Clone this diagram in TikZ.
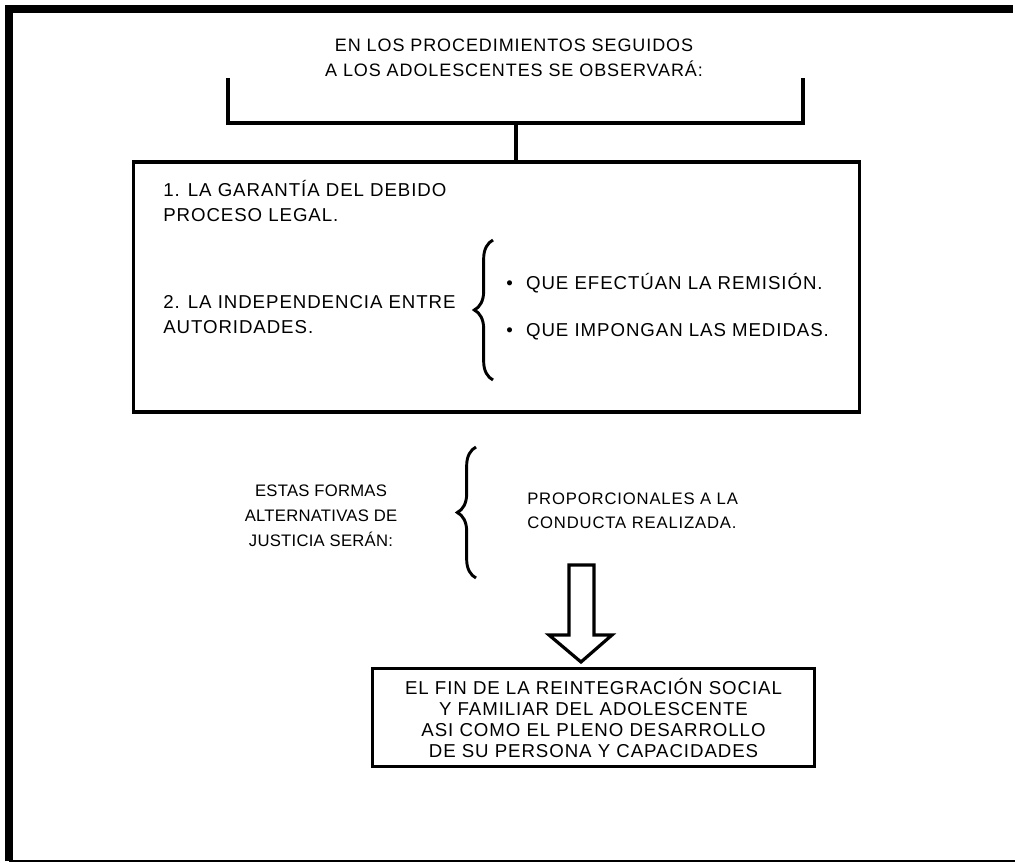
\documentclass[tikz,border=0pt]{standalone}
\usepackage{fontspec}
\setmainfont[LetterSpace=5]{Liberation Sans}
\usetikzlibrary{decorations.pathreplacing,shadows}
\begin{document}
\begin{tikzpicture}[x=0.75pt,y=-0.75pt]
\tikzstyle{marco} = [line width=6pt]
\tikzstyle{caja} = [rectangle, draw=black, fill=white, line width=2.4pt, inner sep=0pt, drop shadow={shadow xshift=1.2pt, shadow yshift=-1.2pt, fill=black!60, opacity=1}]
\tikzstyle{texto} = [font=\fontsize{14}{18.75}\selectfont, inner sep=0pt]
\tikzstyle{angosto} = [font=\fontsize{12.5}{18.75}\selectfont\addfontfeature{LetterSpace=1.5}]
\tikzstyle{trazo} = [line width=2.4pt]
\tikzstyle{llave} = [decorate, decoration={brace, amplitude=14pt}, line width=2.2pt]
\useasboundingbox (0,0) rectangle (1015,863);
% marco exterior
\draw[marco] (9,861) -- (9,9) -- (1013,9);
\draw[line width=1.2pt] (9,861) -- (1015,861);
\node (titulo)[texto, font=\fontsize{13.5}{18.75}\selectfont, align=center] at (514,58) {EN LOS PROCEDIMIENTOS SEGUIDOS\\A LOS ADOLESCENTES SE OBSERVAR\'A:};
\node (garantias)[caja, minimum width=545pt, minimum height=187.5pt] at (496.5,287) {};
\coordinate (izq) at (228,78);
\coordinate (der) at (803,78);
\coordinate (union) at (516,123);
\draw[trazo] (izq) -- (izq |- union) -| (der);
\draw[trazo] (union) -- (union |- garantias.north);
\node (debido)[texto, align=left, anchor=base west] at (163,221.5) {1. LA GARANT\'IA DEL DEBIDO\\PROCESO LEGAL.};
\node (independencia)[texto, align=left, anchor=base west] at (163,333.5) {2. LA INDEPENDENCIA ENTRE\\AUTORIDADES.};
\coordinate (llave1a) at (493,380);
\coordinate (llave1b) at (493,240);
\draw[llave] (llave1a) -- (llave1b);
\node (remision)[texto, anchor=base west] at (506,290) {•\hspace{10pt}QUE EFECT\'UAN LA REMISI\'ON.};
\node (medidas)[texto, anchor=base west] at (506,337) {•\hspace{10pt}QUE IMPONGAN LAS MEDIDAS.};
% formas alternativas
\node (formas)[texto, angosto, align=center, anchor=base] at (321,546) {ESTAS FORMAS\\ALTERNATIVAS DE\\JUSTICIA SER\'AN:};
\coordinate (llave2a) at (476,578);
\coordinate (llave2b) at (476,447);
\draw[llave] (llave2a) -- (llave2b);
\node (proporcionales)[texto, angosto, font=\fontsize{12.5}{18}\selectfont, align=left, anchor=base west] at (527,528.5) {PROPORCIONALES A LA\\CONDUCTA REALIZADA.};
\draw[trazo, line join=miter] (569,565) -- (594,565) -- (594,635) -- (612,635) -- (581,662) -- (549,635) -- (569,635) -- cycle;
\node (fin)[caja, align=center, minimum width=332pt, minimum height=74pt, font=\fontsize{14}{15.75}\selectfont] at (593.5,717.5) {EL FIN DE LA REINTEGRACI\'ON SOCIAL\\Y FAMILIAR DEL ADOLESCENTE\\ASI COMO EL PLENO DESARROLLO\\DE SU PERSONA Y CAPACIDADES};
\end{tikzpicture}
\end{document}
